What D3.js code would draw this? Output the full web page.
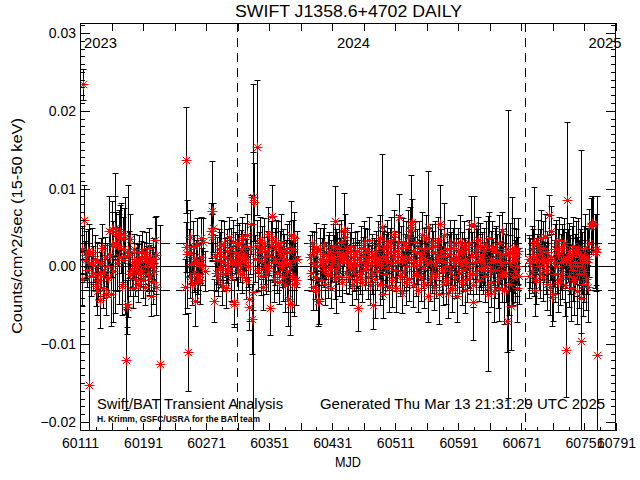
<!DOCTYPE html>
<html><head><meta charset="utf-8">
<script src="https://cdn.jsdelivr.net/npm/d3@7"></script>
<style>
body{margin:0;background:#fff}
svg{display:block}
text{font-family:"Liberation Sans",Arial,sans-serif;fill:#000}
</style>
</head><body>
<svg id="chart" width="640" height="480"></svg>
<script>
// ---------------- DATA ----------------
const title = "SWIFT J1358.6+4702  DAILY";
const yTitle = "Counts/cm^2/sec (15-50 keV)";
const xTitle = "MJD";
const xDomain = [60111, 60791];
const yDomain = [-0.02116, 0.03129];
const xLabelTicks = [60111,60191,60271,60351,60431,60511,60591,60671,60751,60791];
const yLabelTicks = [-0.02,-0.01,0.00,0.01,0.02,0.03];
const yearLabels = ["2023","2024","2025"];
const yearLabelMjd = [60116,60437,60756];
const yearBoundaryMjd = [60310,60676];
const refLevels = [-0.003, 0.003];

// segment A
const mjdA = [60113,60114,60115,60116,60117,60119,60120,60121,60122,60123,
60125,60126,60127,60128,60130,60131,60132,60133,60134,60136,
60137,60138,60139,60140,60142,60143,60144,60145,60146,60148,
60149,60150,60151,60152,60153,60155,60156,60157,60158,60159,
60160,60161,60162,60163,60164,60165,60166,60167,60168,60169,
60170,60171,60172,60173,60174,60175,60177,60178,60179,60180,
60181,60182,60183,60184,60185,60186,60187,60188,60189,60190,
60191,60192,60193,60194,60195,60196,60197,60198,60199,60200,
60201,60202,60203,60204,60205,60206,60207,60208,60212];
const rateA = [0.0022,-0.0016,0.0234,0.0060,0.0008,0.0015,-0.0005,0.0020,-0.0152,0.0005,
-0.0012,0.0018,0.0002,-0.0008,0.0010,-0.0025,-0.0032,0.0006,-0.0018,-0.0043,
-0.0010,0.0004,0.0024,-0.0028,-0.0006,0.0012,-0.0035,0.0000,-0.0015,0.0045,
0.0015,-0.0036,0.0048,0.0028,-0.0006,0.0030,0.0050,0.0042,0.0005,0.0026,
0.0038,0.0012,0.0045,0.0036,-0.0025,0.0022,0.0008,0.0040,0.0014,-0.0120,
-0.0052,-0.0048,0.0020,0.0015,-0.0010,0.0035,-0.0005,-0.0028,0.0006,0.0022,
-0.0016,-0.0002,0.0010,-0.0022,0.0004,0.0018,-0.0010,0.0009,-0.0004,0.0020,
-0.0018,0.0012,0.0000,-0.0026,0.0016,0.0006,-0.0009,0.0024,-0.0013,0.0008,
-0.0038,0.0003,-0.0020,0.0010,-0.0006,0.0034,0.0015,-0.0026,-0.0126];
const errA = [0.0030,0.0035,0.0020,0.0045,0.0025,0.0030,0.0022,0.0028,0.0207,0.0025,
0.0026,0.0032,0.0024,0.0022,0.0030,0.0026,0.0030,0.0025,0.0024,0.0036,
0.0028,0.0032,0.0030,0.0025,0.0034,0.0026,0.0028,0.0030,0.0024,0.0045,
0.0030,0.0040,0.0036,0.0042,0.0065,0.0090,0.0040,0.0028,0.0036,0.0025,
0.0030,0.0060,0.0034,0.0045,0.0038,0.0042,0.0030,0.0035,0.0075,0.0065,
0.0035,0.0030,0.0085,0.0030,0.0028,0.0032,0.0022,0.0026,0.0024,0.0020,
0.0022,0.0026,0.0020,0.0024,0.0025,0.0022,0.0020,0.0024,0.0021,0.0026,
0.0023,0.0020,0.0022,0.0024,0.0028,0.0020,0.0023,0.0025,0.0024,0.0020,
0.0026,0.0022,0.0028,0.0026,0.0025,0.0030,0.0050,0.0036,0.0179];

// segment B
const mjdB = [60244,60245,60246,60247,60248,60249,60250,60251,60252,60253,
60254,60255,60256,60257,60258,60259,60260,60261,60262,60263,
60264,60265,60266,60267,60269,60277,60278,60279,60280,60281,
60282,60283,60285,60286,60287,60288,60289,60290,60291,60292,
60293,60294,60295,60296,60297,60298,60299,60300,60301,60302,
60303,60304,60305,60306,60307,60308,60309,60310,60311,60312,
60313,60314,60315,60316,60317,60318,60319,60320,60321,60322,
60323,60324,60325,60326,60327,60328,60329,60330,60331,60332,
60333,60335,60336,60337,60338,60339,60340,60341,60342,60343,
60344,60345,60346,60347,60348,60349,60350,60351,60352,60353,
60354,60355,60356,60357,60358,60359,60360,60361,60362,60363,
60364,60365,60366,60367,60368,60369,60370,60371,60372,60373,
60374,60375,60376,60377,60378,60379,60380,60381,60382,60383,
60384,60385,60386];
const rateB = [-0.0026,0.0137,0.0025,0.0016,-0.0110,0.0018,-0.0014,0.0038,0.0003,-0.0022,
0.0026,-0.0008,0.0010,-0.0045,0.0006,-0.0020,0.0028,-0.0012,0.0004,-0.0018,
0.0036,0.0012,0.0000,0.0032,-0.0006,0.0046,0.0038,0.0071,0.0050,-0.0044,
0.0014,-0.0008,0.0008,-0.0016,0.0022,-0.0002,0.0016,0.0028,-0.0024,0.0006,
-0.0010,0.0030,0.0012,-0.0028,0.0002,0.0020,-0.0004,0.0038,0.0010,-0.0014,
0.0024,0.0004,0.0032,-0.0048,-0.0046,0.0018,0.0006,0.0028,-0.0006,0.0014,
0.0030,0.0002,0.0022,-0.0010,0.0036,0.0016,0.0008,0.0026,-0.0018,0.0010,
0.0040,0.0000,-0.0042,-0.0052,0.0022,0.0054,-0.0067,0.0089,-0.0033,0.0083,
0.0010,0.0153,0.0026,-0.0004,0.0018,0.0034,-0.0012,0.0008,0.0024,-0.0026,
0.0012,0.0030,0.0002,-0.0008,0.0020,0.0042,-0.0002,0.0014,-0.0053,0.0028,
0.0065,0.0036,0.0006,-0.0016,0.0022,0.0010,0.0030,-0.0008,0.0026,0.0004,
-0.0020,0.0016,0.0032,0.0000,-0.0014,0.0020,0.0010,-0.0024,0.0006,0.0024,
-0.0006,-0.0042,0.0018,0.0002,-0.0048,0.0040,-0.0012,0.0022,-0.0022,0.0036,
0.0008,-0.0018,0.0010];
const errB = [0.0035,0.0068,0.0032,0.0070,0.0050,0.0030,0.0026,0.0035,0.0024,0.0028,
0.0032,0.0025,0.0030,0.0032,0.0028,0.0026,0.0034,0.0024,0.0025,0.0030,
0.0028,0.0022,0.0024,0.0030,0.0026,0.0035,0.0030,0.0064,0.0032,0.0028,
0.0026,0.0024,0.0030,0.0022,0.0026,0.0025,0.0028,0.0032,0.0026,0.0024,
0.0022,0.0028,0.0025,0.0026,0.0023,0.0028,0.0024,0.0026,0.0024,0.0030,
0.0025,0.0022,0.0028,0.0030,0.0028,0.0026,0.0022,0.0025,0.0024,0.0028,
0.0026,0.0022,0.0025,0.0024,0.0028,0.0026,0.0022,0.0030,0.0024,0.0025,
0.0028,0.0026,0.0028,0.0030,0.0032,0.0038,0.0045,0.0145,0.0180,0.0050,
0.0030,0.0087,0.0034,0.0028,0.0026,0.0030,0.0025,0.0024,0.0028,0.0030,
0.0026,0.0032,0.0024,0.0028,0.0026,0.0034,0.0030,0.0025,0.0035,0.0030,
0.0040,0.0028,0.0026,0.0030,0.0028,0.0034,0.0030,0.0026,0.0032,0.0024,
0.0028,0.0030,0.0036,0.0026,0.0030,0.0028,0.0032,0.0034,0.0028,0.0030,
0.0036,0.0034,0.0040,0.0032,0.0040,0.0044,0.0046,0.0038,0.0042,0.0034,
0.0030,0.0032,0.0036];

// segment C
const mjdC = [60403,60404,60405,60406,60407,60408,60409,60410,60411,60412,
60413,60414,60415,60416,60417,60418,60419,60420,60421,60422,
60423,60425,60426,60427,60428,60429,60430,60431,60432,60433,
60434,60435,60436,60437,60438,60439,60440,60441,60442,60443,
60444,60445,60446,60447,60448,60449,60450,60451,60452,60453,
60454,60455,60456,60457,60458,60459,60460,60461,60462,60463,
60464,60465,60466,60467,60468,60469,60470,60471,60472,60473,
60474,60475,60476,60477,60478,60479,60480,60481,60482,60483,
60484,60485,60486,60487,60488,60489,60490,60491,60492,60493,
60494,60495,60496,60497,60498,60499,60500,60501,60502,60503,
60504,60505,60506,60507,60508,60509,60510,60511,60512,60513,
60514,60515,60516,60517,60518,60519,60520,60521,60522,60523,
60524,60525,60526,60527,60528,60529,60530,60531,60532,60533,
60534,60535,60536,60537,60538,60539,60540,60541,60542,60543,
60544,60545,60546,60547,60548,60549,60550,60551,60552,60553,
60554,60555,60556,60557,60558,60559,60560,60561,60562,60563,
60564,60565,60566,60567,60568,60569,60570,60571,60572,60573,
60574,60575,60576,60577,60578,60579,60580,60581,60582,60583,
60584,60585,60586,60587,60588,60589,60590,60591,60592,60593,
60594,60595,60596,60597,60598,60599,60600,60601,60602,60603,
60604,60605,60606,60607,60608,60609,60610,60611,60612,60613,
60614,60615,60616,60617,60618,60619,60620,60621,60622,60623,
60624,60625,60626,60627,60628,60629,60630,60631,60632,60633,
60634,60635,60636,60637,60638,60639,60640,60641,60642,60643,
60644,60645,60646,60647,60648,60649,60650,60651,60652,60653,
60654,60655,60656,60657,60658,60659,60660,60661,60662,60663,
60664,60665,60666,60667,60668];
const rateC = [0.0012,-0.0008,0.0030,-0.0026,0.0004,0.0018,-0.0014,0.0024,-0.0030,0.0000,
-0.0045,-0.0044,0.0010,0.0022,-0.0018,0.0006,0.0016,-0.0004,0.0028,-0.0022,
0.0008,0.0014,-0.0010,0.0020,-0.0002,0.0012,-0.0028,0.0004,0.0026,0.0010,
-0.0016,0.0059,-0.0006,0.0018,0.0002,0.0024,-0.0012,0.0014,0.0032,0.0008,
-0.0020,0.0016,0.0047,0.0038,0.0010,-0.0008,0.0022,0.0004,-0.0014,0.0018,
0.0000,0.0026,-0.0024,0.0012,0.0006,-0.0006,0.0016,-0.0018,0.0020,0.0002,
-0.0054,0.0010,-0.0010,0.0024,0.0006,-0.0020,0.0014,0.0030,-0.0004,0.0018,
0.0000,0.0022,-0.0014,0.0008,0.0034,-0.0024,0.0004,0.0016,-0.0008,-0.0050,
0.0012,-0.0016,0.0020,0.0006,-0.0006,0.0028,0.0010,-0.0022,0.0036,0.0002,
0.0051,0.0014,-0.0036,0.0024,-0.0010,0.0008,0.0030,-0.0002,0.0018,-0.0026,
0.0026,0.0004,0.0034,-0.0018,0.0012,0.0042,-0.0004,0.0020,-0.0028,0.0006,
0.0030,0.0016,0.0063,-0.0012,0.0024,-0.0034,0.0008,0.0032,-0.0006,0.0014,
-0.0020,0.0026,0.0000,0.0038,-0.0016,0.0010,0.0046,0.0051,0.0057,0.0020,
-0.0024,0.0006,0.0032,-0.0010,0.0018,0.0002,-0.0030,0.0024,0.0008,-0.0014,
0.0016,0.0040,-0.0002,0.0022,-0.0022,0.0010,0.0036,0.0004,-0.0038,0.0051,
0.0024,-0.0016,0.0006,0.0030,-0.0008,0.0018,-0.0026,0.0002,0.0026,-0.0012,
0.0012,0.0034,-0.0036,0.0008,0.0054,0.0020,-0.0004,0.0014,-0.0022,0.0040,
0.0006,-0.0018,0.0022,0.0000,-0.0034,0.0016,0.0030,-0.0006,0.0010,-0.0028,
0.0024,0.0004,0.0028,-0.0014,0.0012,-0.0038,0.0008,0.0020,-0.0008,0.0032,
0.0002,-0.0020,0.0018,-0.0004,0.0026,-0.0030,0.0010,0.0004,-0.0016,0.0022,
0.0000,0.0030,-0.0010,0.0053,0.0014,-0.0024,-0.0046,0.0053,0.0006,0.0022,
-0.0008,0.0016,0.0034,-0.0018,0.0008,0.0026,-0.0002,0.0012,-0.0005,0.0020,
0.0004,-0.0012,0.0028,0.0000,-0.0026,-0.0035,0.0036,-0.0006,0.0010,-0.0020,
0.0024,0.0006,-0.0032,0.0018,-0.0004,0.0022,0.0008,-0.0016,0.0030,-0.0028,
0.0012,0.0002,0.0045,-0.0010,0.0016,-0.0030,0.0006,0.0022,-0.0008,-0.0070,
0.0016,-0.0022,0.0004,0.0018,-0.0051,0.0019,-0.0014,0.0008,0.0024,-0.0006,
0.0012,-0.0028,0.0000,0.0020,-0.0012];
const errC = [0.0028,0.0024,0.0015,0.0030,0.0022,0.0026,0.0028,0.0032,0.0026,0.0024,
0.0032,0.0030,0.0026,0.0028,0.0024,0.0030,0.0034,0.0022,0.0026,0.0028,
0.0024,0.0026,0.0030,0.0024,0.0028,0.0022,0.0026,0.0024,0.0028,0.0030,
0.0026,0.0044,0.0054,0.0026,0.0024,0.0030,0.0026,0.0022,0.0028,0.0024,
0.0026,0.0030,0.0047,0.0030,0.0024,0.0026,0.0028,0.0024,0.0022,0.0026,
0.0028,0.0030,0.0026,0.0024,0.0022,0.0026,0.0028,0.0024,0.0026,0.0030,
0.0029,0.0024,0.0026,0.0028,0.0022,0.0026,0.0024,0.0028,0.0026,0.0032,
0.0024,0.0026,0.0028,0.0022,0.0030,0.0026,0.0024,0.0026,0.0028,0.0030,
0.0024,0.0050,0.0026,0.0022,0.0024,0.0030,0.0026,0.0028,0.0030,0.0026,
0.0093,0.0032,0.0030,0.0028,0.0026,0.0034,0.0030,0.0028,0.0026,0.0032,
0.0024,0.0028,0.0030,0.0034,0.0026,0.0030,0.0028,0.0026,0.0030,0.0026,
0.0036,0.0028,0.0030,0.0026,0.0028,0.0026,0.0024,0.0030,0.0026,0.0028,
0.0030,0.0032,0.0026,0.0034,0.0028,0.0030,0.0030,0.0066,0.0030,0.0026,
0.0028,0.0032,0.0026,0.0028,0.0030,0.0024,0.0028,0.0034,0.0026,0.0030,
0.0024,0.0030,0.0026,0.0028,0.0032,0.0026,0.0030,0.0028,0.0034,0.0071,
0.0026,0.0028,0.0030,0.0024,0.0026,0.0028,0.0030,0.0026,0.0032,0.0028,
0.0024,0.0030,0.0038,0.0026,0.0050,0.0028,0.0030,0.0026,0.0028,0.0042,
0.0026,0.0030,0.0028,0.0024,0.0032,0.0026,0.0030,0.0028,0.0034,0.0030,
0.0026,0.0028,0.0032,0.0026,0.0030,0.0034,0.0028,0.0030,0.0026,0.0034,
0.0028,0.0030,0.0026,0.0028,0.0032,0.0030,0.0026,0.0028,0.0030,0.0026,
0.0028,0.0030,0.0026,0.0037,0.0030,0.0028,0.0049,0.0037,0.0026,0.0030,
0.0028,0.0032,0.0030,0.0026,0.0034,0.0030,0.0028,0.0032,0.0030,0.0030,
0.0028,0.0034,0.0030,0.0036,0.0032,0.0100,0.0034,0.0030,0.0036,0.0032,
0.0034,0.0030,0.0040,0.0032,0.0036,0.0030,0.0034,0.0038,0.0036,0.0042,
0.0034,0.0030,0.0025,0.0036,0.0032,0.0044,0.0036,0.0034,0.0038,0.0040,
0.0185,0.0040,0.0036,0.0038,0.0057,0.0070,0.0036,0.0042,0.0038,0.0040,
0.0036,0.0044,0.0038,0.0042,0.0036];

// segment D
const mjdD = [60680,60681,60682,60684,60685,60686,60687,60688,60689,60690,
60691,60692,60693,60694,60695,60696,60697,60698,60699,60700,
60701,60702,60703,60704,60705,60706,60707,60708,60709,60710,
60711,60712,60713,60714,60715,60716,60717,60718,60719,60720,
60721,60722,60723,60724,60725,60726,60727,60728,60729,60730,
60731,60732,60733,60734,60735,60736,60737,60738,60739,60740,
60741,60742,60743,60744,60745,60746,60747,60748,60749,60750,
60751,60752,60753,60754,60755,60756,60757,60759,60760,60761,
60762,60764,60765,60766,60767];
const rateD = [0.0010,-0.0012,0.0004,0.0022,-0.0006,0.0014,0.0032,-0.0030,0.0008,-0.0018,
0.0016,0.0028,0.0000,0.0020,-0.0008,0.0036,0.0010,-0.0014,0.0024,0.0006,
0.0038,-0.0004,0.0018,-0.0022,0.0008,0.0066,-0.0026,0.0012,0.0046,-0.0039,
-0.0036,0.0004,0.0022,-0.0010,0.0030,0.0000,-0.0020,0.0016,0.0034,-0.0016,
0.0006,0.0024,-0.0008,0.0010,0.0030,-0.0024,0.0008,-0.0107,0.0086,0.0014,
-0.0012,0.0020,0.0002,-0.0028,0.0016,-0.0004,0.0026,-0.0018,0.0006,0.0018,
-0.0032,0.0000,0.0022,-0.0010,0.0012,-0.0040,-0.0096,0.0004,-0.0022,0.0014,
-0.0006,0.0024,-0.0016,0.0006,-0.0026,0.0010,0.0030,0.0052,0.0056,0.0054,
0.0055,0.0020,0.0022,0.0018,-0.0114];
const errD = [0.0030,0.0028,0.0032,0.0030,0.0028,0.0034,0.0070,0.0034,0.0028,0.0030,
0.0026,0.0032,0.0030,0.0028,0.0032,0.0036,0.0028,0.0030,0.0034,0.0026,
0.0030,0.0032,0.0028,0.0034,0.0030,0.0026,0.0036,0.0030,0.0032,0.0038,
0.0034,0.0030,0.0032,0.0036,0.0030,0.0034,0.0038,0.0032,0.0030,0.0034,
0.0036,0.0030,0.0034,0.0038,0.0032,0.0040,0.0036,0.0061,0.0100,0.0034,
0.0040,0.0036,0.0038,0.0042,0.0036,0.0040,0.0038,0.0044,0.0036,0.0040,
0.0042,0.0038,0.0040,0.0044,0.0036,0.0046,0.0246,0.0040,0.0042,0.0038,
0.0040,0.0044,0.0040,0.0042,0.0046,0.0040,0.0044,0.0036,0.0034,0.0036,
0.0035,0.0048,0.0046,0.0050,0.0205];

// ---------------- BUILD ----------------
function seg(m, r, e){
  const n = Math.min(m.length, r.length, e.length);
  return d3.range(n).map(i => ({mjd:m[i], rate:r[i], err:e[i]}));
}
const points = [].concat(seg(mjdA,rateA,errA), seg(mjdB,rateB,errB), seg(mjdC,rateC,errC), seg(mjdD,rateD,errD));

const svg = d3.select("#chart");
svg.append("rect").attr("width",640).attr("height",480).attr("fill","#fff");

const L=80, R=616, T=23, B=431;
const x = d3.scaleLinear().domain(xDomain).range([L, R]);
const y = d3.scaleLinear().domain(yDomain).range([B, T]);

svg.append("defs").append("clipPath").attr("id","clip")
  .append("rect").attr("x",L).attr("y",T).attr("width",R-L).attr("height",B-T);

const plot = svg.append("g").attr("clip-path","url(#clip)");

// reference lines
plot.append("line").attr("x1",L).attr("x2",R).attr("y1",Math.round(y(0))+0.5).attr("y2",Math.round(y(0))+0.5)
  .attr("stroke","#000").attr("stroke-width",1);
plot.selectAll(".ref").data(refLevels).join("line")
  .attr("x1",L).attr("x2",R)
  .attr("y1",d=>Math.round(y(d))+0.5).attr("y2",d=>Math.round(y(d))+0.5)
  .attr("stroke","#000").attr("stroke-width",1).attr("stroke-dasharray","10,6");
plot.selectAll(".yr").data(yearBoundaryMjd).join("line")
  .attr("x1",d=>Math.round(x(d))+0.5).attr("x2",d=>Math.round(x(d))+0.5)
  .attr("y1",T).attr("y2",B)
  .attr("stroke","#000").attr("stroke-width",1).attr("stroke-dasharray","9,6");

// error bars
const cap = 3;
const eb = plot.append("g").attr("stroke","#000").attr("stroke-width",1).attr("fill","none");
eb.selectAll("path").data(points).join("path")
  .attr("d", d => {
    const cx = Math.round(x(d.mjd))+0.5;
    const y1 = Math.round(y(d.rate+d.err))+0.5, y2 = Math.round(y(d.rate-d.err))+0.5;
    return `M${cx},${y1}V${y2}M${cx-cap},${y1}H${cx+cap}M${cx-cap},${y2}H${cx+cap}`;
  });

// asterisk markers
const s = 5, sd = 3.7;
const star = `M${-s},0H${s}M0,${-s}V${s}M${-sd},${-sd}L${sd},${sd}M${-sd},${sd}L${sd},${-sd}`;
plot.append("g").selectAll("path").data(points).join("path")
  .attr("transform", d => `translate(${Math.round(x(d.mjd))+0.5},${Math.round(y(d.rate))+0.5})`)
  .attr("d", star).attr("stroke","#ff0000").attr("stroke-width",1).attr("fill","none");

// frame
svg.append("rect").attr("x",L+0.5).attr("y",T+0.5).attr("width",R-L-1).attr("height",B-T-1)
  .attr("fill","none").attr("stroke","#000").attr("stroke-width",1);

// axes
const fs = 14;
function styleAxis(g){
  g.select(".domain").remove();
  g.selectAll(".tick line").attr("stroke","#000").attr("shape-rendering","crispEdges");
  g.selectAll(".tick text").attr("font-size",fs).attr("font-family","Liberation Sans, Arial, sans-serif").attr("fill","#000");
}
const xMinor = d3.range(xDomain[0], xDomain[1]+1, 20);
const xMid = d3.range(xDomain[0], xDomain[1]+1, 40);
// bottom
svg.append("g").attr("transform",`translate(0,${B})`)
  .call(d3.axisBottom(x).tickValues(xMinor).tickSize(-4).tickFormat(""))
  .call(styleAxis);
svg.append("g").attr("transform",`translate(0,${B})`)
  .call(d3.axisBottom(x).tickValues(xMid).tickSize(-8).tickFormat(""))
  .call(styleAxis);
svg.append("g").attr("transform",`translate(0,${B})`)
  .call(d3.axisBottom(x).tickValues(xLabelTicks).tickSize(-8).tickPadding(7).tickFormat(d3.format("d")))
  .call(styleAxis);
// top
svg.append("g").attr("transform",`translate(0,${T})`)
  .call(d3.axisTop(x).tickValues(xMid).tickSize(-8).tickFormat(""))
  .call(styleAxis);
// left / right
const yMinor = d3.range(-21, 32, 1).map(v => v/1000);
const yFmt = d => d3.format(".2f")(d);
svg.append("g").attr("transform",`translate(${L},0)`)
  .call(d3.axisLeft(y).tickValues(yMinor).tickSize(-5).tickFormat(""))
  .call(styleAxis);
svg.append("g").attr("transform",`translate(${L},0)`)
  .call(d3.axisLeft(y).tickValues(yLabelTicks).tickSize(-10).tickPadding(4).tickFormat(yFmt))
  .call(styleAxis);
svg.append("g").attr("transform",`translate(${R},0)`)
  .call(d3.axisRight(y).tickValues(yMinor).tickSize(-5).tickFormat(""))
  .call(styleAxis);
svg.append("g").attr("transform",`translate(${R},0)`)
  .call(d3.axisRight(y).tickValues(yLabelTicks).tickSize(-10).tickFormat(""))
  .call(styleAxis);

// texts
svg.append("text").attr("x",235).attr("y",17).attr("font-size",16)
  .attr("textLength",227).attr("lengthAdjust","spacingAndGlyphs").text(title);
svg.append("text").attr("x",335).attr("y",467).attr("font-size",14)
  .attr("textLength",26).attr("lengthAdjust","spacingAndGlyphs").text(xTitle);
svg.append("text").attr("transform","translate(22,226) rotate(-90)").attr("text-anchor","middle")
  .attr("font-size",14).attr("textLength",216).attr("lengthAdjust","spacingAndGlyphs").text(yTitle);
svg.selectAll(".yl").data(yearLabels).join("text")
  .attr("x",(d,i)=>x(yearLabelMjd[i])).attr("y",48).attr("font-size",14)
  .attr("textLength",33).attr("lengthAdjust","spacingAndGlyphs").text(d=>d);
svg.append("text").attr("x",97).attr("y",409).attr("font-size",14)
  .attr("textLength",186).attr("lengthAdjust","spacingAndGlyphs").text("Swift/BAT Transient Analysis");
svg.append("text").attr("x",97).attr("y",422).attr("font-size",8.5).attr("font-weight","bold")
  .attr("textLength",163).attr("lengthAdjust","spacingAndGlyphs").text("H. Krimm, GSFC/USRA for the BAT team");
svg.append("text").attr("x",320).attr("y",409).attr("font-size",14)
  .attr("textLength",285).attr("lengthAdjust","spacingAndGlyphs").text("Generated Thu Mar 13 21:31:29 UTC 2025");
</script>
</body></html>
